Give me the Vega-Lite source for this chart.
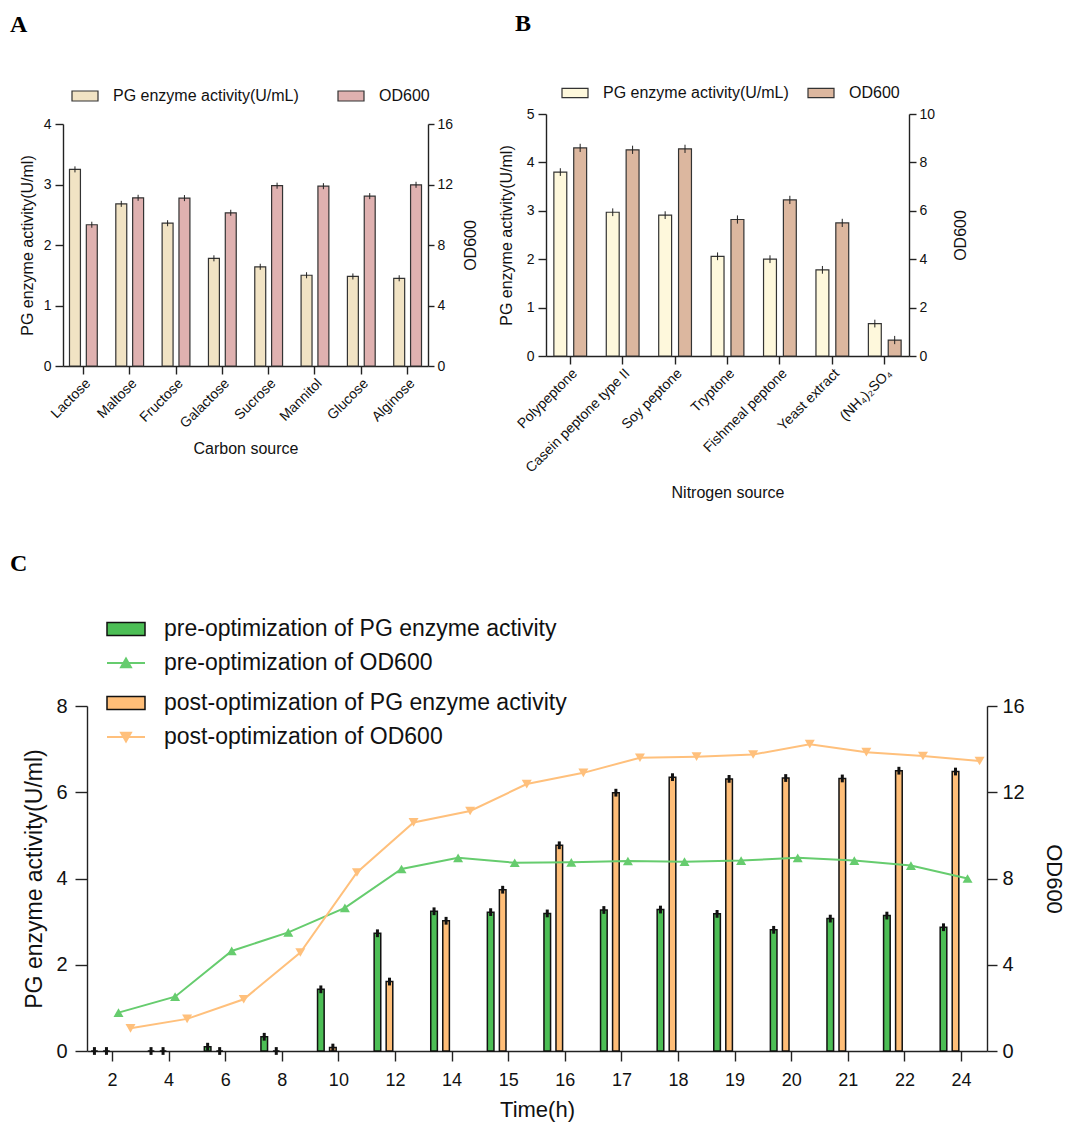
{
  "$schema": "https://vega.github.io/schema/vega-lite/v6.json",
  "padding": {"left": 10, "top": 12, "right": 5, "bottom": 5},
  "config": {
    "font": "Liberation Sans",
    "view": {"stroke": null},
    "axis": {"domainColor": "#222", "tickColor": "#222", "labelColor": "#111", "titleColor": "#111", "domainWidth": 1.4, "tickWidth": 1.4, "grid": false, "titleFontWeight": "normal"},
    "legend": {"labelColor": "#111", "padding": 0, "title": null},
    "title": {"font": "Liberation Serif", "fontSize": 24, "fontWeight": "bold", "anchor": "start", "frame": "group", "color": "#000"}
  },
  "datasets": {
    "carbon": [
      {"src": "Lactose", "s": "PG enzyme activity(U/mL)", "v": 3.25, "lo": 3.2, "hi": 3.3},
      {"src": "Maltose", "s": "PG enzyme activity(U/mL)", "v": 2.68, "lo": 2.63, "hi": 2.73},
      {"src": "Fructose", "s": "PG enzyme activity(U/mL)", "v": 2.36, "lo": 2.31, "hi": 2.41},
      {"src": "Galactose", "s": "PG enzyme activity(U/mL)", "v": 1.78, "lo": 1.73, "hi": 1.83},
      {"src": "Sucrose", "s": "PG enzyme activity(U/mL)", "v": 1.64, "lo": 1.59, "hi": 1.69},
      {"src": "Mannitol", "s": "PG enzyme activity(U/mL)", "v": 1.5, "lo": 1.45, "hi": 1.55},
      {"src": "Glucose", "s": "PG enzyme activity(U/mL)", "v": 1.48, "lo": 1.43, "hi": 1.53},
      {"src": "Alginose", "s": "PG enzyme activity(U/mL)", "v": 1.45, "lo": 1.4, "hi": 1.5},
      {"src": "Lactose", "s": "OD600", "v": 9.34, "lo": 9.14, "hi": 9.54},
      {"src": "Maltose", "s": "OD600", "v": 11.12, "lo": 10.92, "hi": 11.32},
      {"src": "Fructose", "s": "OD600", "v": 11.1, "lo": 10.9, "hi": 11.3},
      {"src": "Galactose", "s": "OD600", "v": 10.13, "lo": 9.93, "hi": 10.33},
      {"src": "Sucrose", "s": "OD600", "v": 11.92, "lo": 11.72, "hi": 12.12},
      {"src": "Mannitol", "s": "OD600", "v": 11.89, "lo": 11.69, "hi": 12.09},
      {"src": "Glucose", "s": "OD600", "v": 11.23, "lo": 11.03, "hi": 11.43},
      {"src": "Alginose", "s": "OD600", "v": 11.98, "lo": 11.78, "hi": 12.18}
    ],
    "nitrogen": [
      {"src": "Polypeptone", "s": "PG enzyme activity(U/mL)", "v": 3.8, "lo": 3.72, "hi": 3.88},
      {"src": "Casein peptone type II", "s": "PG enzyme activity(U/mL)", "v": 2.97, "lo": 2.89, "hi": 3.05},
      {"src": "Soy peptone", "s": "PG enzyme activity(U/mL)", "v": 2.91, "lo": 2.83, "hi": 2.99},
      {"src": "Tryptone", "s": "PG enzyme activity(U/mL)", "v": 2.06, "lo": 1.98, "hi": 2.14},
      {"src": "Fishmeal peptone", "s": "PG enzyme activity(U/mL)", "v": 2.0, "lo": 1.92, "hi": 2.08},
      {"src": "Yeast extract", "s": "PG enzyme activity(U/mL)", "v": 1.78, "lo": 1.7, "hi": 1.86},
      {"src": "(NH₄)₂SO₄", "s": "PG enzyme activity(U/mL)", "v": 0.67, "lo": 0.59, "hi": 0.75},
      {"src": "Polypeptone", "s": "OD600", "v": 8.6, "lo": 8.43, "hi": 8.77},
      {"src": "Casein peptone type II", "s": "OD600", "v": 8.52, "lo": 8.35, "hi": 8.69},
      {"src": "Soy peptone", "s": "OD600", "v": 8.56, "lo": 8.39, "hi": 8.73},
      {"src": "Tryptone", "s": "OD600", "v": 5.64, "lo": 5.47, "hi": 5.81},
      {"src": "Fishmeal peptone", "s": "OD600", "v": 6.45, "lo": 6.28, "hi": 6.62},
      {"src": "Yeast extract", "s": "OD600", "v": 5.5, "lo": 5.33, "hi": 5.67},
      {"src": "(NH₄)₂SO₄", "s": "OD600", "v": 0.66, "lo": 0.49, "hi": 0.83}
    ],
    "cbar": [
      {"t": "2", "s": "pre-optimization of PG enzyme activity", "v": 0, "lo": -0.09, "hi": 0.09},
      {"t": "4", "s": "pre-optimization of PG enzyme activity", "v": 0, "lo": -0.09, "hi": 0.09},
      {"t": "6", "s": "pre-optimization of PG enzyme activity", "v": 0.1, "lo": 0.01, "hi": 0.19},
      {"t": "8", "s": "pre-optimization of PG enzyme activity", "v": 0.33, "lo": 0.24, "hi": 0.42},
      {"t": "10", "s": "pre-optimization of PG enzyme activity", "v": 1.43, "lo": 1.34, "hi": 1.52},
      {"t": "12", "s": "pre-optimization of PG enzyme activity", "v": 2.73, "lo": 2.64, "hi": 2.82},
      {"t": "14", "s": "pre-optimization of PG enzyme activity", "v": 3.24, "lo": 3.15, "hi": 3.33},
      {"t": "15", "s": "pre-optimization of PG enzyme activity", "v": 3.22, "lo": 3.13, "hi": 3.31},
      {"t": "16", "s": "pre-optimization of PG enzyme activity", "v": 3.19, "lo": 3.1, "hi": 3.28},
      {"t": "17", "s": "pre-optimization of PG enzyme activity", "v": 3.27, "lo": 3.18, "hi": 3.36},
      {"t": "18", "s": "pre-optimization of PG enzyme activity", "v": 3.28, "lo": 3.19, "hi": 3.37},
      {"t": "19", "s": "pre-optimization of PG enzyme activity", "v": 3.18, "lo": 3.09, "hi": 3.27},
      {"t": "20", "s": "pre-optimization of PG enzyme activity", "v": 2.81, "lo": 2.72, "hi": 2.9},
      {"t": "21", "s": "pre-optimization of PG enzyme activity", "v": 3.07, "lo": 2.98, "hi": 3.16},
      {"t": "22", "s": "pre-optimization of PG enzyme activity", "v": 3.14, "lo": 3.05, "hi": 3.23},
      {"t": "24", "s": "pre-optimization of PG enzyme activity", "v": 2.87, "lo": 2.78, "hi": 2.96},
      {"t": "2", "s": "post-optimization of PG enzyme activity", "v": 0, "lo": -0.09, "hi": 0.09},
      {"t": "4", "s": "post-optimization of PG enzyme activity", "v": 0, "lo": -0.09, "hi": 0.09},
      {"t": "6", "s": "post-optimization of PG enzyme activity", "v": 0, "lo": -0.09, "hi": 0.09},
      {"t": "8", "s": "post-optimization of PG enzyme activity", "v": 0, "lo": -0.09, "hi": 0.09},
      {"t": "10", "s": "post-optimization of PG enzyme activity", "v": 0.08, "lo": -0.01, "hi": 0.17},
      {"t": "12", "s": "post-optimization of PG enzyme activity", "v": 1.61, "lo": 1.52, "hi": 1.7},
      {"t": "14", "s": "post-optimization of PG enzyme activity", "v": 3.02, "lo": 2.93, "hi": 3.11},
      {"t": "15", "s": "post-optimization of PG enzyme activity", "v": 3.74, "lo": 3.65, "hi": 3.83},
      {"t": "16", "s": "post-optimization of PG enzyme activity", "v": 4.77, "lo": 4.68, "hi": 4.86},
      {"t": "17", "s": "post-optimization of PG enzyme activity", "v": 5.99, "lo": 5.9, "hi": 6.08},
      {"t": "18", "s": "post-optimization of PG enzyme activity", "v": 6.35, "lo": 6.26, "hi": 6.44},
      {"t": "19", "s": "post-optimization of PG enzyme activity", "v": 6.31, "lo": 6.22, "hi": 6.4},
      {"t": "20", "s": "post-optimization of PG enzyme activity", "v": 6.33, "lo": 6.24, "hi": 6.42},
      {"t": "21", "s": "post-optimization of PG enzyme activity", "v": 6.32, "lo": 6.23, "hi": 6.41},
      {"t": "22", "s": "post-optimization of PG enzyme activity", "v": 6.5, "lo": 6.41, "hi": 6.59},
      {"t": "24", "s": "post-optimization of PG enzyme activity", "v": 6.48, "lo": 6.39, "hi": 6.57}
    ],
    "cline": [
      {"t": "2", "s": "pre-optimization of OD600", "v": 1.78},
      {"t": "4", "s": "pre-optimization of OD600", "v": 2.52},
      {"t": "6", "s": "pre-optimization of OD600", "v": 4.64},
      {"t": "8", "s": "pre-optimization of OD600", "v": 5.5},
      {"t": "10", "s": "pre-optimization of OD600", "v": 6.64},
      {"t": "12", "s": "pre-optimization of OD600", "v": 8.44},
      {"t": "14", "s": "pre-optimization of OD600", "v": 8.96},
      {"t": "15", "s": "pre-optimization of OD600", "v": 8.73},
      {"t": "16", "s": "pre-optimization of OD600", "v": 8.75},
      {"t": "17", "s": "pre-optimization of OD600", "v": 8.81},
      {"t": "18", "s": "pre-optimization of OD600", "v": 8.78},
      {"t": "19", "s": "pre-optimization of OD600", "v": 8.83},
      {"t": "20", "s": "pre-optimization of OD600", "v": 8.96},
      {"t": "21", "s": "pre-optimization of OD600", "v": 8.83},
      {"t": "22", "s": "pre-optimization of OD600", "v": 8.6},
      {"t": "24", "s": "pre-optimization of OD600", "v": 8.0},
      {"t": "2", "s": "post-optimization of OD600", "v": 1.05},
      {"t": "4", "s": "post-optimization of OD600", "v": 1.49},
      {"t": "6", "s": "post-optimization of OD600", "v": 2.4},
      {"t": "8", "s": "post-optimization of OD600", "v": 4.57},
      {"t": "10", "s": "post-optimization of OD600", "v": 8.28},
      {"t": "12", "s": "post-optimization of OD600", "v": 10.6},
      {"t": "14", "s": "post-optimization of OD600", "v": 11.13},
      {"t": "15", "s": "post-optimization of OD600", "v": 12.38},
      {"t": "16", "s": "post-optimization of OD600", "v": 12.9},
      {"t": "17", "s": "post-optimization of OD600", "v": 13.6},
      {"t": "18", "s": "post-optimization of OD600", "v": 13.65},
      {"t": "19", "s": "post-optimization of OD600", "v": 13.75},
      {"t": "20", "s": "post-optimization of OD600", "v": 14.23},
      {"t": "21", "s": "post-optimization of OD600", "v": 13.86},
      {"t": "22", "s": "post-optimization of OD600", "v": 13.68},
      {"t": "24", "s": "post-optimization of OD600", "v": 13.45}
    ]
  },
  "bounds": "flush",
  "spacing": 592,
  "resolve": {"scale": {"fill": "independent", "color": "independent", "stroke": "independent", "shape": "independent", "xOffset": "independent"}, "legend": {"fill": "independent", "color": "independent", "stroke": "independent", "shape": "independent"}},
  "vconcat": [
    {
      "hconcat": [
        {
          "width": 365, "height": 252,
          "title": {"text": "A", "dx": -53, "offset": 45},
          "data": {"name": "carbon"},
          "layer": [
            {
              "transform": [{"filter": "datum.s === 'PG enzyme activity(U/mL)'"}],
              "layer": [
                {
                  "mark": {"type": "bar", "stroke": "#333", "strokeWidth": 1.2},
                  "encoding": {
                    "x": {"field": "src", "type": "nominal", "scale": {"domain": ["Lactose", "Maltose", "Fructose", "Galactose", "Sucrose", "Mannitol", "Glucose", "Alginose"], "paddingInner": 0.4, "paddingOuter": 0.14},
                      "axis": {"title": "Carbon source", "labelAngle": -45, "labelFontSize": 14, "titleFontSize": 16, "tickSize": 8, "labelPadding": 2, "titlePadding": 10, "labelOverlap": false}},
                    "xOffset": {"field": "s", "type": "nominal", "scale": {"domain": ["PG enzyme activity(U/mL)", "OD600"], "paddingInner": 0.35, "paddingOuter": 0}},
                    "y": {"field": "v", "type": "quantitative", "title": "PG enzyme activity(U/ml)", "scale": {"domain": [0, 4], "range": [252, 10], "nice": false},
                      "axis": {"values": [0, 1, 2, 3, 4], "format": "d", "labelFontSize": 14, "titleFontSize": 16, "tickSize": 8, "labelPadding": 4, "titlePadding": 8}},
                    "fill": {"field": "s", "type": "nominal", "scale": {"domain": ["PG enzyme activity(U/mL)", "OD600"], "range": ["#f1e3c4", "#dfb1b0"]},
                      "legend": {"orient": "none", "legendX": 8, "legendY": -32, "direction": "horizontal", "symbolType": "M-1,-0.385H1V0.385H-1Z", "symbolSize": 676, "symbolStrokeColor": "#333", "symbolStrokeWidth": 1.2, "labelFontSize": 16, "labelOffset": 14, "columnPadding": 36, "labelLimit": 400}}
                  }
                },
                {
                  "mark": {"type": "rule", "color": "#222", "strokeWidth": 1},
                  "encoding": {
                    "x": {"field": "src", "type": "nominal"},
                    "xOffset": {"field": "s", "type": "nominal"},
                    "y": {"field": "lo", "type": "quantitative", "title": "PG enzyme activity(U/ml)", "scale": {"domain": [0, 4], "range": [252, 10], "nice": false}},
                    "y2": {"field": "hi"}
                  }
                }
              ]
            },
            {
              "transform": [{"filter": "datum.s === 'OD600'"}],
              "layer": [
                {
                  "mark": {"type": "bar", "stroke": "#333", "strokeWidth": 1.2},
                  "encoding": {
                    "x": {"field": "src", "type": "nominal"},
                    "xOffset": {"field": "s", "type": "nominal"},
                    "y": {"field": "v", "type": "quantitative", "title": "OD600", "scale": {"domain": [0, 16], "range": [252, 10], "nice": false},
                      "axis": {"orient": "right", "titleAngle": 270, "values": [0, 4, 8, 12, 16], "format": "d", "labelFontSize": 14, "titleFontSize": 16, "tickSize": 6, "labelPadding": 3, "titlePadding": 26}},
                    "fill": {"field": "s", "type": "nominal"}
                  }
                },
                {
                  "mark": {"type": "rule", "color": "#222", "strokeWidth": 1},
                  "encoding": {
                    "x": {"field": "src", "type": "nominal"},
                    "xOffset": {"field": "s", "type": "nominal"},
                    "y": {"field": "lo", "type": "quantitative", "title": "OD600", "scale": {"domain": [0, 16], "range": [252, 10], "nice": false}, "axis": {"orient": "right"}},
                    "y2": {"field": "hi"}
                  }
                }
              ]
            }
          ],
          "resolve": {"scale": {"y": "independent"}}
        },
        {
          "width": 363, "height": 242,
          "title": {"text": "B", "dx": -31, "offset": 43},
          "data": {"name": "nitrogen"},
          "layer": [
            {
              "transform": [{"filter": "datum.s === 'PG enzyme activity(U/mL)'"}],
              "layer": [
                {
                  "mark": {"type": "bar", "stroke": "#333", "strokeWidth": 1.2},
                  "encoding": {
                    "x": {"field": "src", "type": "nominal", "scale": {"domain": ["Polypeptone", "Casein peptone type II", "Soy peptone", "Tryptone", "Fishmeal peptone", "Yeast extract", "(NH₄)₂SO₄"], "paddingInner": 0.375, "paddingOuter": 0.15},
                      "axis": {"title": "Nitrogen source", "labelAngle": -45, "labelFontSize": 14, "titleFontSize": 16, "tickSize": 8, "labelPadding": 2, "titlePadding": 10, "labelOverlap": false}},
                    "xOffset": {"field": "s", "type": "nominal", "scale": {"domain": ["PG enzyme activity(U/mL)", "OD600"], "paddingInner": 0.35, "paddingOuter": 0}},
                    "y": {"field": "v", "type": "quantitative", "title": "PG enzyme activity(U/ml)", "scale": {"domain": [0, 5], "nice": false},
                      "axis": {"values": [0, 1, 2, 3, 4, 5], "format": "d", "labelFontSize": 14, "titleFontSize": 16, "tickSize": 8, "labelPadding": 4, "titlePadding": 12}},
                    "fill": {"field": "s", "type": "nominal", "scale": {"domain": ["PG enzyme activity(U/mL)", "OD600"], "range": ["#fef8dc", "#dcb79f"]},
                      "legend": {"orient": "none", "legendX": 15, "legendY": -35, "direction": "horizontal", "symbolType": "M-1,-0.35H1V0.35H-1Z", "symbolSize": 676, "symbolStrokeColor": "#333", "symbolStrokeWidth": 1.2, "labelFontSize": 16, "labelOffset": 14, "columnPadding": 16, "labelLimit": 400}}
                  }
                },
                {
                  "mark": {"type": "rule", "color": "#222", "strokeWidth": 1},
                  "encoding": {
                    "x": {"field": "src", "type": "nominal"},
                    "xOffset": {"field": "s", "type": "nominal"},
                    "y": {"field": "lo", "type": "quantitative", "title": "PG enzyme activity(U/ml)", "scale": {"domain": [0, 5], "nice": false}},
                    "y2": {"field": "hi"}
                  }
                }
              ]
            },
            {
              "transform": [{"filter": "datum.s === 'OD600'"}],
              "layer": [
                {
                  "mark": {"type": "bar", "stroke": "#333", "strokeWidth": 1.2},
                  "encoding": {
                    "x": {"field": "src", "type": "nominal"},
                    "xOffset": {"field": "s", "type": "nominal"},
                    "y": {"field": "v", "type": "quantitative", "title": "OD600", "scale": {"domain": [0, 10], "nice": false},
                      "axis": {"orient": "right", "titleAngle": 270, "values": [0, 2, 4, 6, 8, 10], "format": "d", "labelFontSize": 14, "titleFontSize": 16, "tickSize": 7, "labelPadding": 3, "titlePadding": 34}},
                    "fill": {"field": "s", "type": "nominal"}
                  }
                },
                {
                  "mark": {"type": "rule", "color": "#222", "strokeWidth": 1},
                  "encoding": {
                    "x": {"field": "src", "type": "nominal"},
                    "xOffset": {"field": "s", "type": "nominal"},
                    "y": {"field": "lo", "type": "quantitative", "title": "OD600", "scale": {"domain": [0, 10], "nice": false}, "axis": {"orient": "right"}},
                    "y2": {"field": "hi"}
                  }
                }
              ]
            }
          ],
          "resolve": {"scale": {"y": "independent"}}
        }
      ],
      "spacing": 118,
      "bounds": "flush",
      "resolve": {"scale": {"fill": "independent", "color": "independent", "stroke": "independent", "shape": "independent", "xOffset": "independent"}, "legend": {"fill": "independent", "color": "independent", "stroke": "independent", "shape": "independent"}}
    },
    {
      "width": 924, "height": 345,
      "title": {"text": "C", "dx": -53, "offset": 33},
      "layer": [
        {
          "data": {"name": "cbar"},
          "layer": [
            {
              "mark": {"type": "bar", "stroke": "#111", "strokeWidth": 1.5},
              "encoding": {
                "x": {"field": "t", "type": "nominal", "scale": {"domain": ["2", "4", "6", "8", "10", "12", "14", "15", "16", "17", "18", "19", "20", "21", "22", "24"], "range": [24, 924], "paddingInner": 0.15, "paddingOuter": 0.025},
                  "axis": {"title": "Time(h)", "labelAngle": 0, "labelFontSize": 18, "titleFontSize": 22, "tickSize": 10, "labelPadding": 10, "titlePadding": 10}},
                "xOffset": {"field": "s", "type": "nominal", "scale": {"domain": ["pre-optimization of PG enzyme activity", "post-optimization of PG enzyme activity", "pre-optimization of OD600", "post-optimization of OD600"], "paddingInner": 0.45, "paddingOuter": 0.225}},
                "y": {"field": "v", "type": "quantitative", "title": "PG enzyme activity(U/ml)", "scale": {"domain": [0, 8], "nice": false},
                  "axis": {"offset": -24, "values": [0, 2, 4, 6, 8], "format": "d", "labelFontSize": 20, "titleFontSize": 23, "tickSize": 12, "labelPadding": 8, "titlePadding": 9}},
                "fill": {"field": "s", "type": "nominal", "scale": {"domain": ["pre-optimization of PG enzyme activity", "post-optimization of PG enzyme activity"], "range": ["#4cbe55", "#ffbe78"]},
                  "legend": {"orient": "none", "legendX": 43, "legendY": -97, "direction": "vertical", "symbolType": "M-1,-0.342H1V0.342H-1Z", "symbolSize": 1444, "symbolStrokeColor": "#111", "symbolStrokeWidth": 1.5, "labelFontSize": 23, "labelOffset": 18, "rowPadding": 42, "labelLimit": 600}}
              }
            },
            {
              "mark": {"type": "rule", "color": "#111", "strokeWidth": 3},
              "encoding": {
                "x": {"field": "t", "type": "nominal"},
                "xOffset": {"field": "s", "type": "nominal"},
                "y": {"field": "lo", "type": "quantitative", "title": "PG enzyme activity(U/ml)", "scale": {"domain": [0, 8], "nice": false}},
                "y2": {"field": "hi"}
              }
            }
          ]
        },
        {
          "data": {"name": "cline"},
          "layer": [
            {
              "mark": {"type": "line", "strokeWidth": 2},
              "encoding": {
                "x": {"field": "t", "type": "nominal"},
                "xOffset": {"field": "s", "type": "nominal"},
                "y": {"field": "v", "type": "quantitative", "title": "OD600", "scale": {"domain": [0, 16], "nice": false},
                  "axis": {"orient": "right", "values": [0, 4, 8, 12, 16], "format": "d", "labelFontSize": 20, "titleFontSize": 22, "tickSize": 10, "labelPadding": 5, "titlePadding": 17}},
                "stroke": {"field": "s", "type": "nominal", "scale": {"domain": ["pre-optimization of OD600", "post-optimization of OD600"], "range": ["#66cc6e", "#ffc07c"]},
                  "legend": {"orient": "none", "legendX": 43, "legendY": -63, "direction": "vertical", "symbolSize": 1444, "symbolStrokeWidth": 2, "labelFontSize": 23, "labelOffset": 18, "rowPadding": 42, "labelLimit": 600,
                    "encode": {"symbols": {"update": {
                      "shape": {"signal": "datum.value === 'pre-optimization of OD600' ? 'M-1,0H1M-0.26,0.22L0,-0.24L0.26,0.22Z' : 'M-1,0H1M-0.26,-0.22L0,0.24L0.26,-0.22Z'"},
                      "fill": {"signal": "datum.value === 'pre-optimization of OD600' ? '#66cc6e' : '#ffc07c'"}
                    }}}}}
              }
            },
            {
              "mark": {"type": "point", "filled": true, "size": 100, "opacity": 1},
              "encoding": {
                "x": {"field": "t", "type": "nominal"},
                "xOffset": {"field": "s", "type": "nominal"},
                "y": {"field": "v", "type": "quantitative", "title": "OD600", "scale": {"domain": [0, 16], "nice": false}, "axis": {"orient": "right"}},
                "shape": {"field": "s", "type": "nominal", "scale": {"domain": ["post-optimization of OD600", "pre-optimization of OD600"], "range": ["triangle-down", "triangle-up"]}, "legend": null},
                "color": {"field": "s", "type": "nominal", "scale": {"domain": ["post-optimization of OD600", "pre-optimization of OD600"], "range": ["#ffc07c", "#66cc6e"]}, "legend": null}
              }
            }
          ]
        }
      ],
      "resolve": {"scale": {"y": "independent"}}
    }
  ]
}
